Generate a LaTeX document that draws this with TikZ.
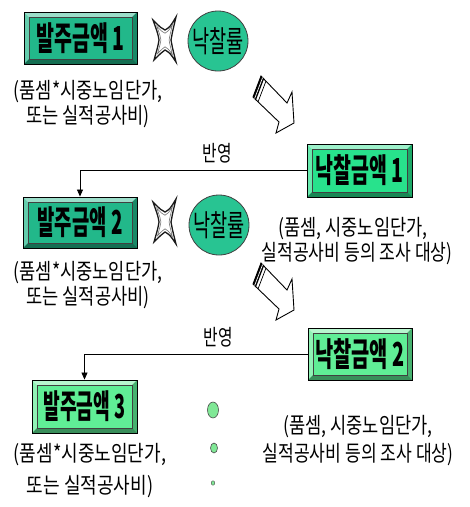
\documentclass[tikz,border=0pt]{standalone}
\usepackage{fontspec}
\setmainfont{Noto Sans CJK KR}
\usetikzlibrary{arrows.meta,shapes.geometric}
\definecolor{cA}{RGB}{34,184,138}
\definecolor{cB}{RGB}{40,226,140}
\definecolor{cL}{RGB}{96,238,150}
\definecolor{cC}{RGB}{40,196,146}
\definecolor{cD}{RGB}{128,232,150}
\newcommand\sx[3]{\scalebox{#1}[1]{\fontsize{#2}{#2}\selectfont #3}}
\tikzset{
  bevbox/.style={rectangle, draw=black, line width=0.9pt, inner sep=0pt,
    path picture={
      \fill[white,opacity=0.55] (path picture bounding box.north west) -- (path picture bounding box.north east) -- ([shift={(-5pt,-5pt)}]path picture bounding box.north east) -- ([shift={(5pt,-5pt)}]path picture bounding box.north west) -- cycle;
      \fill[white,opacity=0.3] (path picture bounding box.north west) -- ([shift={(5pt,-5pt)}]path picture bounding box.north west) -- ([shift={(5pt,5pt)}]path picture bounding box.south west) -- (path picture bounding box.south west) -- cycle;
      \fill[black,opacity=0.4] (path picture bounding box.south west) -- ([shift={(5pt,5pt)}]path picture bounding box.south west) -- ([shift={(-5pt,5pt)}]path picture bounding box.south east) -- (path picture bounding box.south east) -- cycle;
      \fill[black,opacity=0.25] (path picture bounding box.north east) -- ([shift={(-5pt,-5pt)}]path picture bounding box.north east) -- ([shift={(-5pt,5pt)}]path picture bounding box.south east) -- (path picture bounding box.south east) -- cycle;
      \draw[black!75,line width=0.6pt] ([shift={(5pt,-5pt)}]path picture bounding box.north west) rectangle ([shift={(-5pt,5pt)}]path picture bounding box.south east);
    }},
  rate/.style={circle, draw=black!75, line width=0.8pt, fill=cC, minimum size=60pt, inner sep=0pt},
  dot/.style={ellipse, draw=black!70, line width=0.6pt, fill=cD, inner sep=0pt},
  note/.style={inner sep=0pt},
  conn/.style={draw=black, line width=0.8pt, -{Triangle[length=7pt,width=6pt]}},
  hollow/.style={draw=black, line width=0.9pt, fill=white, line join=miter},
  starline/.style={draw=black!90, line width=1.3pt, line join=miter}
}
\newcommand\xstarpath{(-12,-20) .. controls (-4,-12) .. (0,-10) .. controls (5,-13) .. (11,-23) .. controls (7,-6) .. (6,0) .. controls (7,6) .. (11,22) .. controls (5,13) .. (0,10) .. controls (-4,13) .. (-11,20) .. controls (-7,6) .. (-6,0) .. controls (-7,-6) .. cycle}
\newcommand\lineA{(품셈*시중노임단가,}
\newcommand\lineB{또는 실적공사비)}
\newcommand\lineC{(품셈, 시중노임단가,}
\newcommand\lineD{실적공사비 등의 조사 대상)}
\begin{document}
\begin{tikzpicture}[x=1pt,y=-1pt]
\useasboundingbox[fill=white] (0,0) rectangle (470,507);

% boxes
\node[bevbox, fill=cA, minimum width=113pt, minimum height=52pt] (a1) at (80.5,38) {\sx{0.59}{33}{\bfseries 발주금액 1}};
\node[bevbox, fill=cA, minimum width=114pt, minimum height=51pt] (a2) at (80,222.5) {\sx{0.57}{33}{\bfseries 발주금액 2}};
\node[bevbox, fill=cL, minimum width=105pt, minimum height=53pt] (a3) at (84.5,406.5) {\sx{0.55}{33}{\bfseries 발주금액 3}};
\node[bevbox, fill=cB, minimum width=105pt, minimum height=53pt] (b1) at (359.5,170.5) {\sx{0.59}{33}{\bfseries 낙찰금액 1}};
\node[bevbox, fill=cL, minimum width=104pt, minimum height=52pt] (b2) at (360,354) {\sx{0.60}{33}{\bfseries 낙찰금액 2}};

% rate circles
\node[rate] (c1) at (218,41) {\sx{0.62}{30}{낙찰률}};
\node[rate] (c2) at (219,225) {\sx{0.62}{30}{낙찰률}};

% small dots
\node[dot, minimum width=11pt, minimum height=16pt] (d1) at (213,410) {};
\node[dot, minimum width=7pt, minimum height=10pt] (d2) at (214,448) {};
\node[dot, minimum width=3.5pt, minimum height=4.5pt, line width=0.4pt] (d3) at (213,483) {};

% notes
\node[note] (t1a) at (88,92) {\sx{0.80}{22}{\lineA}};
\node[note] (t1b) at (88,117) {\sx{0.80}{22}{\lineB}};
\node[note] (t2a) at (88,273) {\sx{0.80}{22}{\lineA}};
\node[note] (t2b) at (88,298) {\sx{0.80}{22}{\lineB}};
\node[note] (t3a) at (90,455) {\sx{0.82}{22}{\lineA}};
\node[note] (t3b) at (90,487) {\sx{0.82}{22}{\lineB}};
\node[note] (r1a) at (353,229) {\sx{0.80}{22}{\lineC}};
\node[note] (r1b) at (357,254) {\sx{0.78}{22}{\lineD}};
\node[note] (r2a) at (358,427) {\sx{0.80}{22}{\lineC}};
\node[note] (r2b) at (358,455) {\sx{0.78}{22}{\lineD}};

% reflect connectors
\draw[conn] (b1.west) -| (a2.north);
\node[inner sep=0pt] (l1) at (217,153) {\sx{0.72}{22}{반영}};
\draw[conn] (b2.west) -| (a3.north);
\node[inner sep=0pt] (l2) at (218,337) {\sx{0.72}{22}{반영}};

% multiplication stars
\begin{scope}[shift={(165,40)}]
  \path[starline] \xstarpath;
  \path[draw=black!55, line width=0.6pt, scale=0.68] \xstarpath;
\end{scope}
\begin{scope}[shift={(165,222)}]
  \path[starline] \xstarpath;
  \path[draw=black!55, line width=0.6pt, scale=0.68] \xstarpath;
\end{scope}

% hollow block arrows
\foreach \dy in {0,187}{
\begin{scope}[yshift=-\dy pt]
  \path[hollow] (261,76) -- (287,103) -- (292,92) -- (294,123) -- (276,133) -- (279,122) -- (253,97) -- cycle;
  \fill[black] (261,76) -- (264,79) -- (256,100) -- (253,97) -- cycle;
  \draw[white, line width=0.7pt] (262.6,77.6) -- (254.6,98.6);
  \draw[black, line width=0.7pt] (266,81) -- (258,102);
\end{scope}}
\end{tikzpicture}
\end{document}
